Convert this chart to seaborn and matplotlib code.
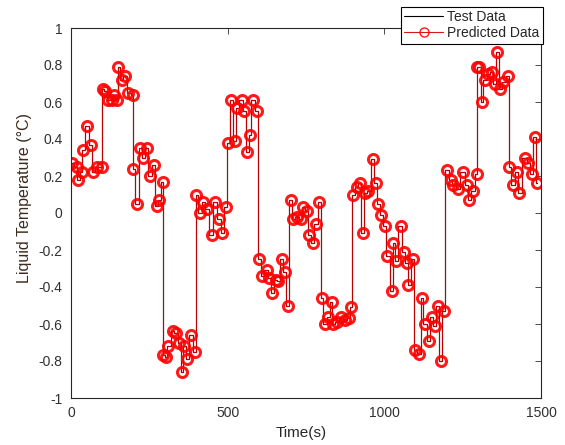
import numpy as np
import pandas as pd
import matplotlib
matplotlib.use("Agg")
import matplotlib.pyplot as plt
import seaborn as sns

# ---- data ----
time_s = [2, 18, 23, 34, 39, 52, 63, 71, 84, 98,
          101, 109, 118, 130, 137, 146, 151, 162, 172, 183,
          197, 199, 212, 220, 231, 242, 252, 265, 274, 282,
          293, 295, 303, 311, 325, 335, 346, 353, 361, 371,
          383, 396, 399, 412, 422, 433, 449, 460, 473, 483,
          494, 502, 510, 523, 529, 545, 552, 563, 571, 580,
          595, 601, 609, 625, 633, 641, 654, 662, 673, 683,
          692, 701, 708, 720, 733, 741, 752, 761, 771, 782,
          793, 800, 811, 821, 832, 837, 848, 861, 875, 888,
          894, 901, 912, 922, 931, 938, 949, 963, 973, 981,
          989, 1002, 1010, 1024, 1029, 1037, 1052, 1063, 1071, 1077,
          1091, 1098, 1112, 1119, 1130, 1141, 1151, 1162, 1170, 1180,
          1191, 1199, 1212, 1220, 1236, 1250, 1263, 1271, 1282, 1295,
          1297, 1303, 1311, 1321, 1332, 1343, 1353, 1361, 1369, 1380,
          1396, 1399, 1410, 1422, 1431, 1449, 1459, 1470, 1481, 1488]

test_data = [0.27, 0.25, 0.18, 0.22, 0.34, 0.47, 0.37, 0.22, 0.25, 0.25,
             0.67, 0.66, 0.61, 0.61, 0.64, 0.61, 0.79, 0.72, 0.74, 0.65,
             0.64, 0.24, 0.05, 0.35, 0.30, 0.35, 0.20, 0.26, 0.04, 0.07,
             0.17, -0.77, -0.78, -0.72, -0.64, -0.65, -0.70, -0.86, -0.72, -0.79,
             -0.66, -0.75, 0.10, 0.00, 0.06, 0.02, -0.12, 0.06, -0.03, -0.11,
             0.03, 0.38, 0.61, 0.39, 0.57, 0.61, 0.55, 0.33, 0.42, 0.61,
             0.55, -0.25, -0.34, -0.31, -0.35, -0.43, -0.36, -0.37, -0.25, -0.32,
             -0.50, 0.07, -0.03, -0.02, -0.03, 0.03, 0.01, -0.12, -0.16, -0.06,
             0.06, -0.46, -0.60, -0.56, -0.48, -0.60, -0.59, -0.56, -0.58, -0.57,
             -0.51, 0.10, 0.14, 0.16, -0.11, 0.11, 0.12, 0.29, 0.16, 0.05,
             -0.01, -0.07, -0.23, -0.42, -0.16, -0.26, -0.07, -0.21, -0.27, -0.39,
             -0.25, -0.74, -0.76, -0.46, -0.60, -0.69, -0.56, -0.61, -0.50, -0.80,
             -0.53, 0.23, 0.18, 0.15, 0.13, 0.22, 0.15, 0.07, 0.12, 0.21,
             0.79, 0.79, 0.60, 0.72, 0.75, 0.76, 0.70, 0.87, 0.67, 0.71,
             0.74, 0.25, 0.15, 0.22, 0.11, 0.30, 0.27, 0.21, 0.41, 0.16]

predicted_data = list(test_data)

xticks = [0, 500, 1000, 1500]
xtick_labels = ["0", "500", "1000", "1500"]
yticks = [-1, -0.8, -0.6, -0.4, -0.2, 0, 0.2, 0.4, 0.6, 0.8, 1]
ytick_labels = ["-1", "-0.8", "-0.6", "-0.4", "-0.2", "0", "0.2", "0.4", "0.6", "0.8", "1"]

df = pd.DataFrame({"time": time_s, "test": test_data, "pred": predicted_data})

sns.set_style("white")
plt.rcParams["font.family"] = ["Liberation Sans", "DejaVu Sans"]

fig = plt.figure(figsize=(5.65, 4.45), dpi=100)
ax = fig.add_axes([71 / 565, 1 - 398 / 445, 470 / 565, 370 / 445])

sns.lineplot(data=df, x="time", y="test", ax=ax, color="black", lw=0.8,
             estimator=None, sort=False, label="Test Data",
             drawstyle="steps-mid")
sns.lineplot(data=df, x="time", y="pred", ax=ax, color="#d00000", lw=0.8,
             estimator=None, sort=False, marker="o", markersize=7.2,
             markerfacecolor="none", markeredgecolor="#ff0000",
             markeredgewidth=2.2, label="Predicted Data", alpha=0.9,
             drawstyle="steps-mid")

ax.set_xlim(0, 1500)
ax.set_ylim(-1, 1)
ax.set_xticks(xticks)
ax.set_xticklabels(xtick_labels)
ax.set_yticks(yticks)
ax.set_yticklabels(ytick_labels)
ax.tick_params(direction="in", top=True, right=True, length=4, width=0.6,
               colors="#303030", labelsize=10, pad=6)
for s in ax.spines.values():
    s.set_visible(True)
    s.set_color("#262626")
    s.set_linewidth(0.8)

ax.set_xlabel("Time(s)", fontsize=11, color="#262626")
ax.xaxis.set_label_coords(0.49, -0.075)
ax.set_ylabel("Liquid Temperature (°C)", fontsize=11.5, color="#3d2b1f")
ax.yaxis.set_label_coords(-0.083, 0.54)

leg = ax.legend(loc="upper right", bbox_to_anchor=(543 / 565, 1 - 6.5 / 445),
                bbox_transform=fig.transFigure, frameon=True, fancybox=False,
                fontsize=10, borderpad=0.25, labelspacing=0.15,
                handlelength=2.8, handletextpad=0.3, borderaxespad=0)
leg.get_frame().set_edgecolor("black")
leg.get_frame().set_linewidth(0.8)
leg.get_frame().set_alpha(1)
for h in leg.get_lines():
    h.set_markeredgewidth(1.0)
    h.set_markersize(6.5)

fig.savefig("out.png", dpi=100)
